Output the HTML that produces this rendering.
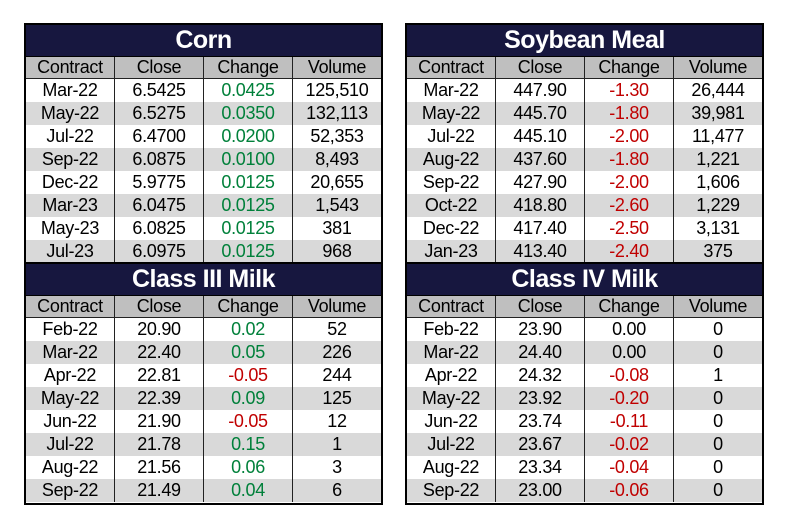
<!DOCTYPE html>
<html><head><meta charset="utf-8"><style>
body{margin:0;width:788px;height:527px;background:#fff;position:relative;font-family:"Liberation Sans",sans-serif;}
.t{position:absolute;border:2px solid #000;box-sizing:border-box;width:359px;background:#fff;overflow:hidden}
.h{background:#17173f;color:#fff;font-weight:bold;font-size:25px;text-align:center;height:31px;line-height:31px;border-bottom:1px solid #000;letter-spacing:-0.5px}
.r{display:flex;height:23px;line-height:23px;font-size:18px;color:#000;letter-spacing:-0.3px;box-sizing:border-box}
.r div{flex:1;text-align:center;border-right:1px solid #222}
.r div:last-child{border-right:none}
.ch{background:#bfbfbf;border-bottom:1px solid #222;height:22px;line-height:21px}
.g{background:#d9d9d9}
.gr{color:#00803a}.rd{color:#c00000}
</style></head><body>

<div class="t" style="left:24px;top:23px;height:242px">
<div class="h">Corn</div>
<div class="r ch"><div>Contract</div><div>Close</div><div>Change</div><div>Volume</div></div>
<div class="r"><div>Mar-22</div><div>6.5425</div><div class="gr">0.0425</div><div>125,510</div></div>
<div class="r g"><div>May-22</div><div>6.5275</div><div class="gr">0.0350</div><div>132,113</div></div>
<div class="r"><div>Jul-22</div><div>6.4700</div><div class="gr">0.0200</div><div>52,353</div></div>
<div class="r g"><div>Sep-22</div><div>6.0875</div><div class="gr">0.0100</div><div>8,493</div></div>
<div class="r"><div>Dec-22</div><div>5.9775</div><div class="gr">0.0125</div><div>20,655</div></div>
<div class="r g"><div>Mar-23</div><div>6.0475</div><div class="gr">0.0125</div><div>1,543</div></div>
<div class="r"><div>May-23</div><div>6.0825</div><div class="gr">0.0125</div><div>381</div></div>
<div class="r g"><div>Jul-23</div><div>6.0975</div><div class="gr">0.0125</div><div>968</div></div>
</div>

<div class="t" style="left:24px;top:262px;height:243px">
<div class="h">Class III Milk</div>
<div class="r ch"><div>Contract</div><div>Close</div><div>Change</div><div>Volume</div></div>
<div class="r"><div>Feb-22</div><div>20.90</div><div class="gr">0.02</div><div>52</div></div>
<div class="r g"><div>Mar-22</div><div>22.40</div><div class="gr">0.05</div><div>226</div></div>
<div class="r"><div>Apr-22</div><div>22.81</div><div class="rd">-0.05</div><div>244</div></div>
<div class="r g"><div>May-22</div><div>22.39</div><div class="gr">0.09</div><div>125</div></div>
<div class="r"><div>Jun-22</div><div>21.90</div><div class="rd">-0.05</div><div>12</div></div>
<div class="r g"><div>Jul-22</div><div>21.78</div><div class="gr">0.15</div><div>1</div></div>
<div class="r"><div>Aug-22</div><div>21.56</div><div class="gr">0.06</div><div>3</div></div>
<div class="r g"><div>Sep-22</div><div>21.49</div><div class="gr">0.04</div><div>6</div></div>
</div>

<div class="t" style="left:405px;top:23px;height:242px">
<div class="h">Soybean Meal</div>
<div class="r ch"><div>Contract</div><div>Close</div><div>Change</div><div>Volume</div></div>
<div class="r"><div>Mar-22</div><div>447.90</div><div class="rd">-1.30</div><div>26,444</div></div>
<div class="r g"><div>May-22</div><div>445.70</div><div class="rd">-1.80</div><div>39,981</div></div>
<div class="r"><div>Jul-22</div><div>445.10</div><div class="rd">-2.00</div><div>11,477</div></div>
<div class="r g"><div>Aug-22</div><div>437.60</div><div class="rd">-1.80</div><div>1,221</div></div>
<div class="r"><div>Sep-22</div><div>427.90</div><div class="rd">-2.00</div><div>1,606</div></div>
<div class="r g"><div>Oct-22</div><div>418.80</div><div class="rd">-2.60</div><div>1,229</div></div>
<div class="r"><div>Dec-22</div><div>417.40</div><div class="rd">-2.50</div><div>3,131</div></div>
<div class="r g"><div>Jan-23</div><div>413.40</div><div class="rd">-2.40</div><div>375</div></div>
</div>

<div class="t" style="left:405px;top:262px;height:243px">
<div class="h">Class IV Milk</div>
<div class="r ch"><div>Contract</div><div>Close</div><div>Change</div><div>Volume</div></div>
<div class="r"><div>Feb-22</div><div>23.90</div><div>0.00</div><div>0</div></div>
<div class="r g"><div>Mar-22</div><div>24.40</div><div>0.00</div><div>0</div></div>
<div class="r"><div>Apr-22</div><div>24.32</div><div class="rd">-0.08</div><div>1</div></div>
<div class="r g"><div>May-22</div><div>23.92</div><div class="rd">-0.20</div><div>0</div></div>
<div class="r"><div>Jun-22</div><div>23.74</div><div class="rd">-0.11</div><div>0</div></div>
<div class="r g"><div>Jul-22</div><div>23.67</div><div class="rd">-0.02</div><div>0</div></div>
<div class="r"><div>Aug-22</div><div>23.34</div><div class="rd">-0.04</div><div>0</div></div>
<div class="r g"><div>Sep-22</div><div>23.00</div><div class="rd">-0.06</div><div>0</div></div>
</div>

</body></html>
